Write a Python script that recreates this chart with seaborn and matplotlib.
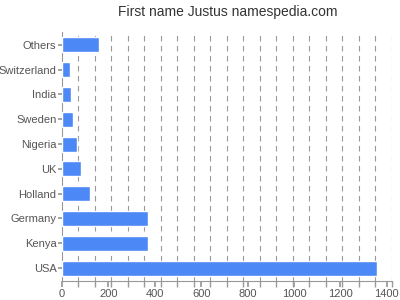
import matplotlib
matplotlib.use("Agg")
import matplotlib.pyplot as plt
import seaborn as sns
import pandas as pd
import numpy as np

countries = ["Others", "Switzerland", "India", "Sweden", "Nigeria", "UK",
             "Holland", "Germany", "Kenya", "USA"]
counts = [158, 33, 39, 49, 63, 80, 120, 369, 372, 1357]
x_ticks = [0, 200, 400, 600, 800, 1000, 1200, 1400]
title = "First name Justus namespedia.com"

sns.set_theme(style="white")
plt.rcParams["font.family"] = ["Liberation Sans", "DejaVu Sans"]

df = pd.DataFrame({"country": countries, "count": counts})

fig = plt.figure(figsize=(4, 3), dpi=100)
ax = fig.add_axes([62/400, 1 - 280.5/300, 330/400, (280.5 - 32.5)/300])

sns.barplot(data=df, x="count", y="country", order=countries, color="#4d88f7",
            width=0.6, saturation=1, ax=ax, zorder=3)

xmax = 1422
ax.set_xlim(0, xmax)
ax.set_ylim(len(countries) - 0.5, -0.5)
grid = np.linspace(0, 1420, 21)
for g in grid[1:]:
    ax.axvline(g, color="#999999", lw=0.8, ls=(0, (5, 4)), zorder=1)
ax.set_xticks(x_ticks)
ax.set_xticks(grid, minor=True)
ax.set_xlabel("")
ax.set_ylabel("")
for s in ["top", "right"]:
    ax.spines[s].set_visible(False)
for s in ["left", "bottom"]:
    ax.spines[s].set_color("#999999")
    ax.spines[s].set_linewidth(0.8)
ax.tick_params(axis="x", which="both", bottom=True, length=4, color="#999999",
               labelsize=8, labelcolor="#555555", pad=2)
ax.tick_params(axis="y", left=True, length=3, color="#999999",
               labelsize=8, labelcolor="#555555", pad=1)
fig.text(228/400, 1 - 12/300, title, ha="center", va="center", fontsize=10, color="#333333")

fig.savefig("out.png", dpi=100, facecolor="white")
